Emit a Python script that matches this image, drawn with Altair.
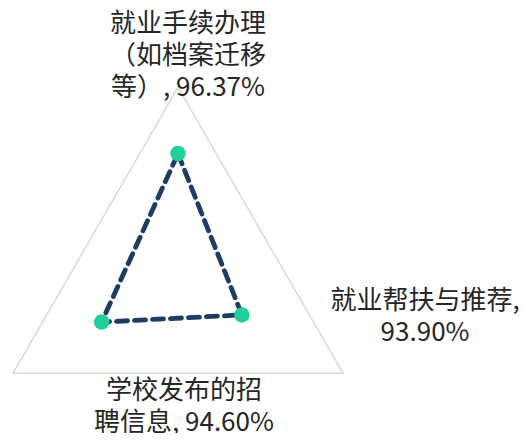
import math
import altair as alt
import pandas as pd

# ---- data ----
categories = ["就业手续办理（如档案迁移等）", "就业帮扶与推荐", "学校发布的招聘信息"]
values = [96.37, 93.90, 94.60]
label_names = ["就业手续办理\n（如档案迁移\n等）", "就业帮扶与推荐", "学校发布的招\n聘信息"]
label_seps = [", ", ",\n", ", "]
axis_angles = [90, -30, 210]          # direction of each radar axis (degrees)

# ---- radial scale (axis range) ----
R_MIN, R_MAX = 90.3, 99.6

# ---- layout constants ----
W, H = 512, 425
CX, CY, R = 170.0, 270.0, 190.6       # centre and outer radius in pixels
x_dom = [-CX / R, (W - CX) / R]
y_dom = [-(H - CY) / R, CY / R]

pts = pd.DataFrame({
    "category": categories,
    "value": values,
    "angle": axis_angles,
    "name": label_names,
    "sep": label_seps,
    "i": list(range(len(categories))),
})
# closed polygon: repeat first row at the end
poly = pd.concat([pts, pts.iloc[[0]].assign(i=len(categories))], ignore_index=True)

xs = alt.Scale(domain=x_dom, range=[0, W], zero=False, nice=False)
ys = alt.Scale(domain=y_dom, range=[H, 0], zero=False, nice=False)

r_expr = f"(datum.value - {R_MIN}) / ({R_MAX} - {R_MIN})"


def with_xy(chart, radius_expr):
    return chart.transform_calculate(
        rad="datum.angle * PI / 180",
        r=radius_expr,
    ).transform_calculate(
        px="datum.r * cos(datum.rad)",
        py="datum.r * sin(datum.rad)",
    )


enc_xy = dict(
    x=alt.X("px:Q", scale=xs, axis=None),
    y=alt.Y("py:Q", scale=ys, axis=None),
)

outer = with_xy(alt.Chart(poly), "1").mark_line(
    color="#d9d9d9", strokeWidth=1.5
).encode(order="i:O", **enc_xy)

dashed = with_xy(alt.Chart(poly), r_expr).mark_line(
    color="#1f3c66", strokeWidth=4.8, strokeDash=[11, 7], strokeCap="round"
).encode(order="i:O", **enc_xy)

dots = with_xy(alt.Chart(pts), r_expr).mark_circle(
    color="#22cf9b", size=240, opacity=1
).encode(**enc_xy)

offsets = {0: (10, -63), 1: (82, -72), 2: (171, 18)}
labels = []
for idx, (dx, dy) in offsets.items():
    t = with_xy(alt.Chart(pts), "1").transform_filter(
        f"datum.i == {idx}"
    ).transform_calculate(
        label="datum.name + datum.sep + format(datum.value, '.2f') + '%'"
    ).mark_text(
        font="Noto Sans CJK SC", fontSize=26, color="#262626",
        align="center", baseline="middle", lineBreak="\n", lineHeight=32,
        dx=dx, dy=dy,
    ).encode(text="label:N", **enc_xy)
    labels.append(t)

chart = alt.layer(outer, dashed, dots, *labels).properties(
    width=W, height=H, padding=0,
    autosize=alt.AutoSizeParams(type="none"),
).configure_view(stroke=None)

chart.save("out.html", embed_options={"renderer": "svg", "actions": False})
